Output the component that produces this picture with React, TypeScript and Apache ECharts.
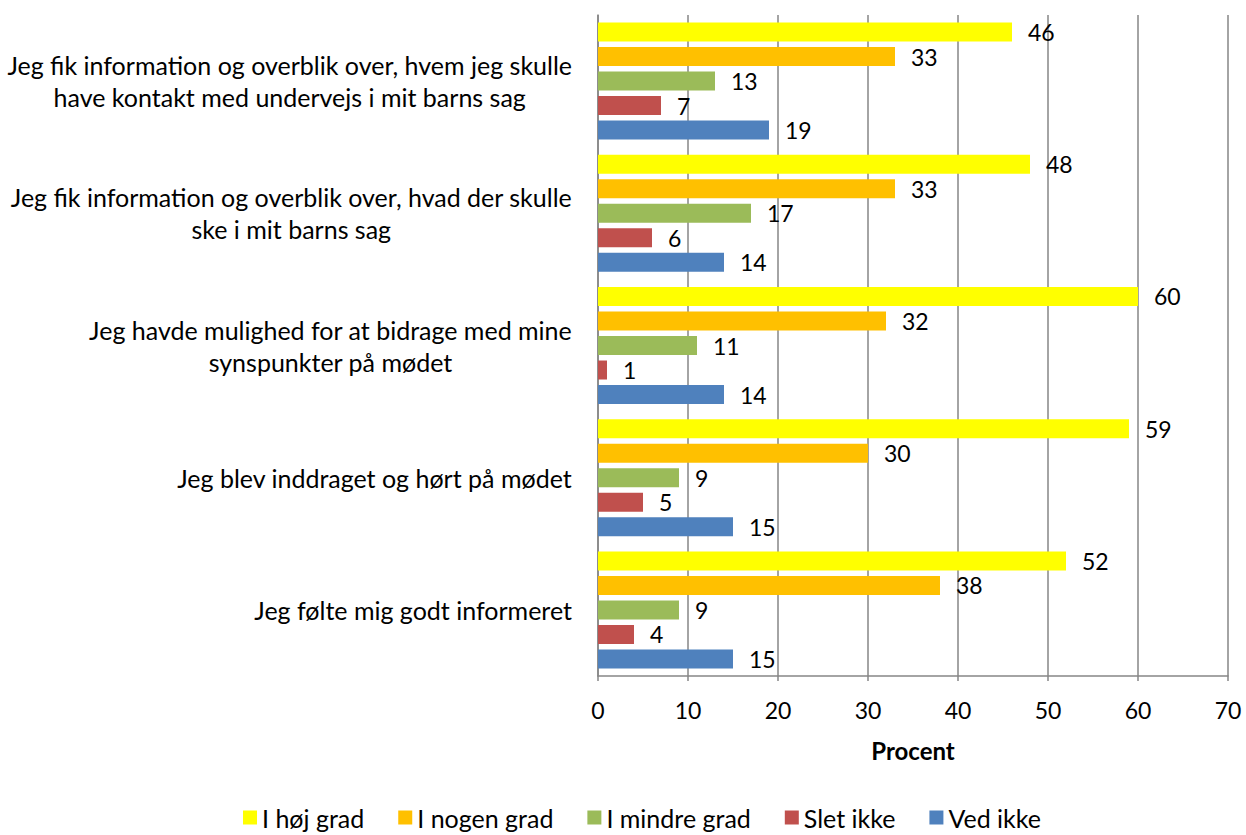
import React, { useEffect, useRef } from "react";
import * as echarts from "echarts";

const categories = [
  "Jeg fik information og overblik over, hvem jeg skulle\nhave kontakt med undervejs i mit barns sag",
  "Jeg fik information og overblik over, hvad der skulle\nske i mit barns sag",
  "Jeg havde mulighed for at bidrage med mine\nsynspunkter på mødet",
  "Jeg blev inddraget og hørt på mødet",
  "Jeg følte mig godt informeret",
];
const seriesNames = ["I høj grad", "I nogen grad", "I mindre grad", "Slet ikke", "Ved ikke"];
const hoejGrad = [46, 48, 60, 59, 52];
const nogenGrad = [33, 33, 32, 30, 38];
const mindreGrad = [13, 17, 11, 9, 9];
const sletIkke = [7, 6, 1, 5, 4];
const vedIkke = [19, 14, 14, 15, 15];
const seriesValues = [hoejGrad, nogenGrad, mindreGrad, sletIkke, vedIkke];
const colors = ["#FFFF00", "#FFC000", "#9BBB59", "#C0504D", "#4F81BD"];
const xTicks = { min: 0, max: 70, interval: 10 };

const FONT = "Lato";

export default function App() {
  const ref = useRef<HTMLDivElement>(null);
  useEffect(() => {
    document.body.style.margin = "0";
    document.body.style.overflow = "hidden";
    if (!ref.current) return;
    const chart = echarts.init(ref.current, undefined, { renderer: "svg" });
    chart.setOption({
      animation: false,
      textStyle: { fontFamily: FONT },
      grid: { left: 598, right: 18, top: 15, bottom: 159, containLabel: false },
      legend: {
        bottom: 0,
        left: 238,
        itemWidth: 14,
        itemHeight: 14,
        itemGap: 34,
        icon: "rect",
        data: seriesNames,
        textStyle: { fontSize: 25, color: "#000", fontFamily: FONT },
      },
      xAxis: {
        type: "value",
        min: xTicks.min,
        max: xTicks.max,
        interval: xTicks.interval,
        name: "Procent",
        nameLocation: "middle",
        nameGap: 62,
        nameTextStyle: { fontSize: 24, fontWeight: "bold", color: "#000", fontFamily: FONT },
        axisLine: { show: true, lineStyle: { color: "#868686", width: 1.5 } },
        axisTick: { show: true, length: 5, lineStyle: { color: "#868686", width: 1.5 } },
        axisLabel: { fontSize: 23, color: "#000", margin: 22, fontFamily: FONT },
        splitLine: { show: true, lineStyle: { color: "#868686", width: 1.5 } },
      },
      yAxis: {
        type: "category",
        inverse: true,
        data: categories,
        axisLine: { show: true, lineStyle: { color: "#868686", width: 1.5 } },
        axisTick: { show: false },
        axisLabel: {
          color: "#000",
          margin: 26,
          align: "right",
          fontFamily: FONT,
          fontSize: 25,
          lineHeight: 32,
          formatter: (v: string) =>
            v
              .split("\n")
              .map((l) => `{c|${l}}`)
              .join("\n"),
          rich: {
            c: { fontSize: 25, lineHeight: 32, align: "center", color: "#000", fontFamily: FONT },
          },
        },
      },
      series: seriesValues.map((vals, i) => ({
        name: seriesNames[i],
        type: "bar",
        data: vals,
        barWidth: 19,
        barGap: "29%",
        itemStyle: { color: colors[i] },
        label: {
          show: true,
          position: "right",
          distance: 16,
          fontSize: 23,
          color: "#000",
          fontFamily: FONT,
        },
      })),
    });
    return () => chart.dispose();
  }, []);
  return <div ref={ref} style={{ width: 1246, height: 835 }} />;
}
